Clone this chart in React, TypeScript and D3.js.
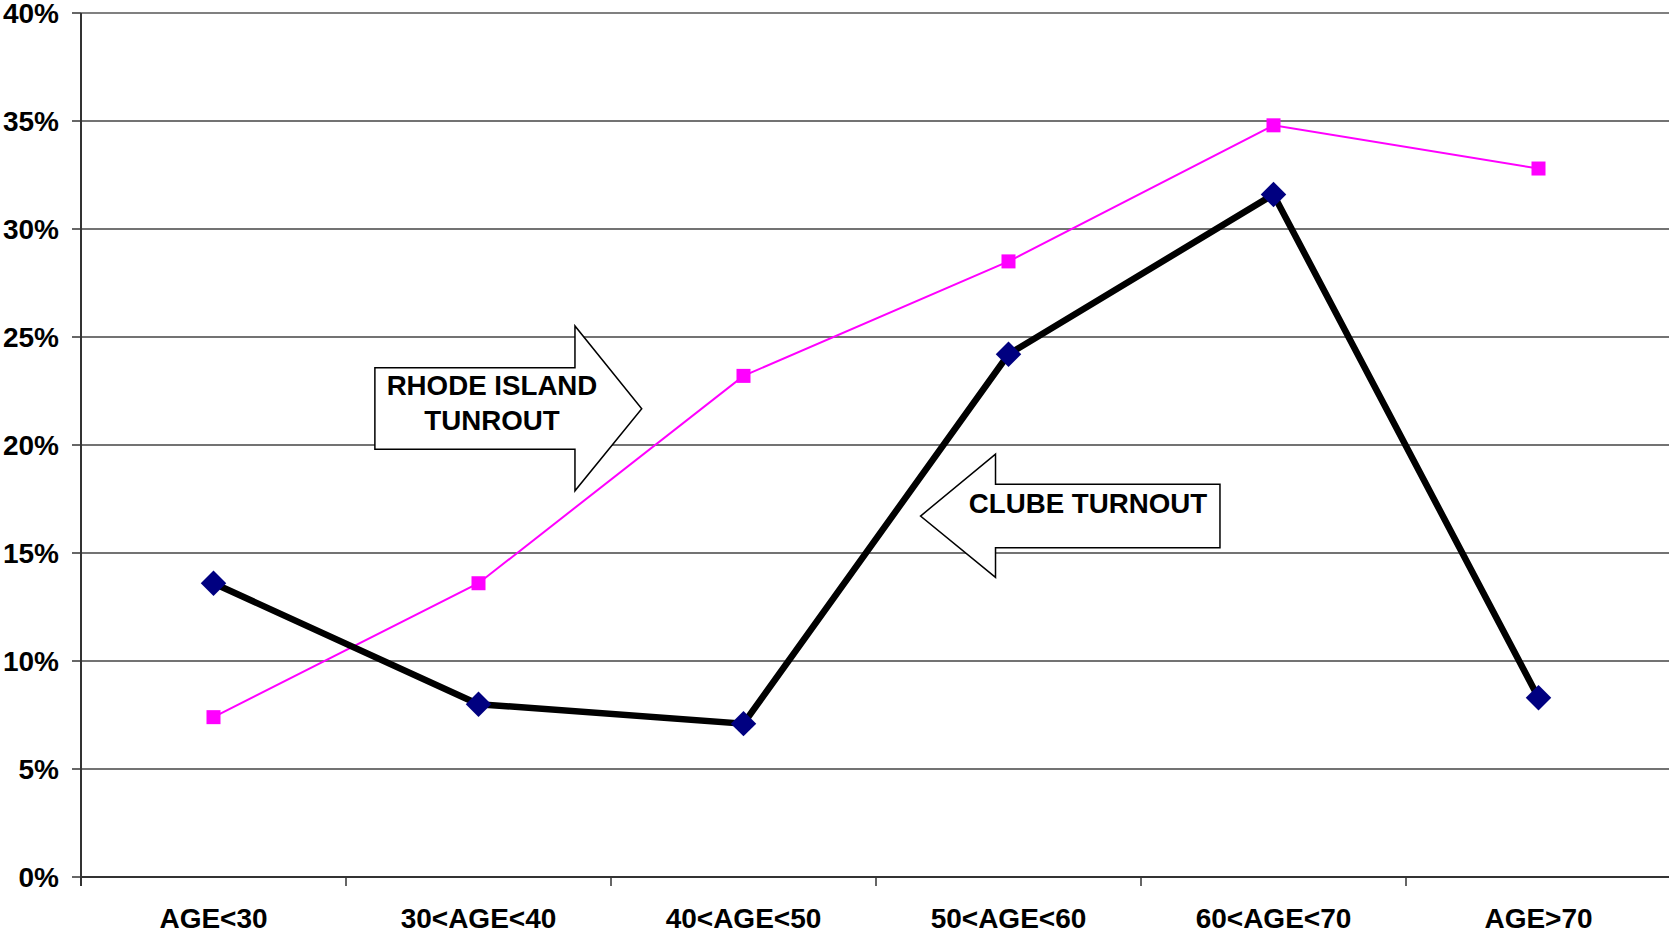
import * as d3 from "d3";

const categories = ["AGE<30", "30<AGE<40", "40<AGE<50", "50<AGE<60", "60<AGE<70", "AGE>70"];
const clubTurnout = [0.136, 0.08, 0.071, 0.242, 0.316, 0.083];
const riTurnout = [0.074, 0.136, 0.232, 0.285, 0.348, 0.328];
const yTicks = [0, 0.05, 0.1, 0.15, 0.2, 0.25, 0.3, 0.35, 0.4];

// annotation arrows, in (category index, value) units
const riArrow = { left: 1.109, bodyRight: 1.864, tip: 2.116, bodyTop: 0.2358, bodyBottom: 0.198, headTop: 0.2551, headBottom: 0.1788, tipY: 0.2168 };
const clubArrow = { tip: 3.168, headBack: 3.451, right: 4.298, tipY: 0.1671, headTop: 0.1958, headBottom: 0.13875, bodyTop: 0.1818, bodyBottom: 0.15245 };

const App = () => {
  const width = 1669,
    height = 933,
    marginLeft = 81,
    marginTop = 13,
    plotRight = 1671,
    plotBottom = 877;

  const x = d3.scaleBand(categories, [marginLeft, plotRight]).padding(0);
  const xi = d3.scaleLinear([0, categories.length], [marginLeft, plotRight]);
  const y = d3.scaleLinear([0, 0.4], [plotBottom, marginTop]);
  const cx = (i: number) => x(categories[i])! + x.bandwidth() / 2;

  const line = d3.line<number>((d, i) => cx(i), (d) => y(d));
  const font = "'Liberation Sans', Arial, sans-serif";

  const riPath = [
    [riArrow.left, riArrow.bodyTop],
    [riArrow.bodyRight, riArrow.bodyTop],
    [riArrow.bodyRight, riArrow.headTop],
    [riArrow.tip, riArrow.tipY],
    [riArrow.bodyRight, riArrow.headBottom],
    [riArrow.bodyRight, riArrow.bodyBottom],
    [riArrow.left, riArrow.bodyBottom],
  ].map(([a, b]) => `${xi(a)},${y(b)}`).join(" ");

  const clubPath = [
    [clubArrow.tip, clubArrow.tipY],
    [clubArrow.headBack, clubArrow.headTop],
    [clubArrow.headBack, clubArrow.bodyTop],
    [clubArrow.right, clubArrow.bodyTop],
    [clubArrow.right, clubArrow.bodyBottom],
    [clubArrow.headBack, clubArrow.bodyBottom],
    [clubArrow.headBack, clubArrow.headBottom],
  ].map(([a, b]) => `${xi(a)},${y(b)}`).join(" ");

  return (
    <svg width={width} height={height} style={{ position: "absolute", left: 0, top: 0, background: "#fff" }}>
      {/* grid */}
      {yTicks.map((t) => (
        <g key={t}>
          {t > 0 && (
            <line x1={marginLeft} x2={plotRight} y1={y(t)} y2={y(t)}
              stroke={t === 0.4 ? "#808080" : "#444"} strokeWidth={t === 0.4 ? 2 : 1.3} />
          )}
          <line x1={marginLeft - 9} x2={marginLeft} y1={y(t)} y2={y(t)} stroke="#333" strokeWidth={1.5} />
          <text x={59} y={y(t)} dy="0.36em" textAnchor="end" fontFamily={font} fontWeight="bold" fontSize={28}>
            {d3.format(".0%")(t)}
          </text>
        </g>
      ))}
      {/* axes */}
      <line x1={marginLeft} x2={marginLeft} y1={marginTop} y2={plotBottom + 9} stroke="#333" strokeWidth={2} />
      <line x1={marginLeft} x2={plotRight} y1={plotBottom} y2={plotBottom} stroke="#333" strokeWidth={2} />
      {categories.map((c, i) => (
        <g key={c}>
          {i > 0 && (
            <line x1={x(c)} x2={x(c)} y1={plotBottom} y2={plotBottom + 9} stroke="#333" strokeWidth={1.5} />
          )}
          <text x={cx(i)} y={928} textAnchor="middle" fontFamily={font} fontWeight="bold" fontSize={28}>
            {c}
          </text>
        </g>
      ))}
      {/* series */}
      <path d={line(riTurnout)!} fill="none" stroke="#FF00FF" strokeWidth={2} />
      <path d={line(clubTurnout)!} fill="none" stroke="#000" strokeWidth={6.5} strokeLinejoin="miter" />
      {riTurnout.map((d, i) => (
        <rect key={i} x={cx(i) - 7} y={y(d) - 7} width={14} height={14} fill="#FF00FF" />
      ))}
      {clubTurnout.map((d, i) => (
        <rect key={i} x={-9} y={-9} width={18} height={18} fill="#000080"
          transform={`translate(${cx(i)},${y(d)}) rotate(45)`} />
      ))}
      {/* annotations */}
      <polygon points={riPath} fill="#fff" stroke="#000" strokeWidth={1.5} />
      <text x={xi(1.551)} y={y(0.2231)} textAnchor="middle" fontFamily={font} fontWeight="bold" fontSize={27.7}>
        RHODE ISLAND
      </text>
      <text x={xi(1.551)} y={y(0.2069)} textAnchor="middle" fontFamily={font} fontWeight="bold" fontSize={27.7}>
        TUNROUT
      </text>
      <polygon points={clubPath} fill="#fff" stroke="#000" strokeWidth={1.5} />
      <text x={xi(3.8)} y={y(0.1687)} textAnchor="middle" fontFamily={font} fontWeight="bold" fontSize={27.7}>
        CLUBE TURNOUT
      </text>
    </svg>
  );
};

export default App;
